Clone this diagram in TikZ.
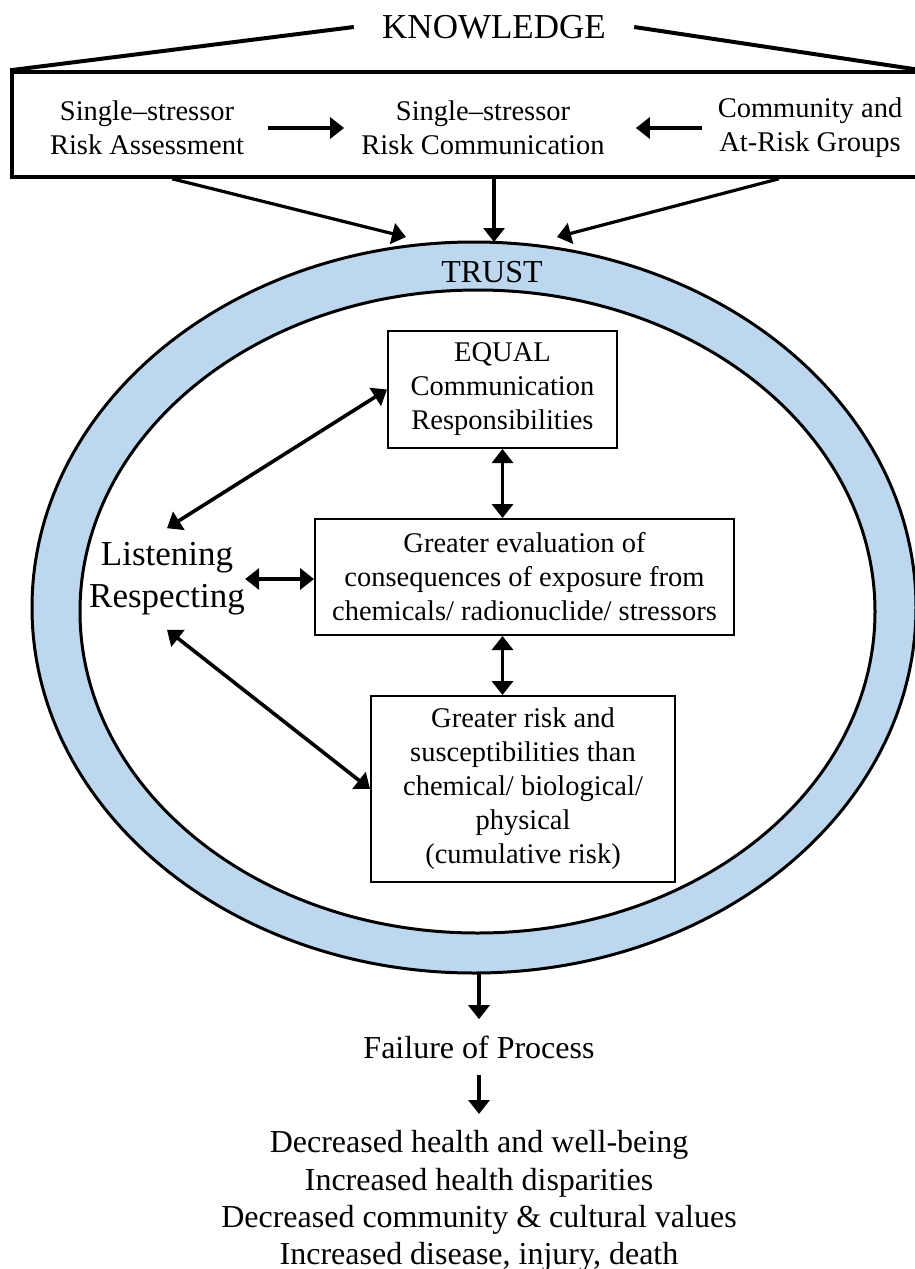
\documentclass[tikz,border=0pt]{standalone}
\usepackage{fontspec}
\setmainfont{Liberation Serif}
\usepackage{xcolor}
\usetikzlibrary{arrows.meta}
\definecolor{trustblue}{RGB}{189,215,238}

\begin{document}
\begin{tikzpicture}[x=0.5pt,y=-0.5pt,>={Triangle[length=7pt,width=10.5pt]},
  small/.style={align=center,inner sep=0pt,font=\fontsize{14.25}{17}\selectfont},
  card/.style={small,draw,line width=1pt},
  big/.style={align=center,font=\fontsize{16}{18.7}\selectfont},
  link/.style={<->,line width=1.8pt},
  flow/.style={->,line width=1.6pt}]
\useasboundingbox (0,0) rectangle (915,1269);

\node[draw,line width=1.75pt,minimum width=454pt,minimum height=52.5pt,inner sep=0pt] (kbox) at (466,124.5) {};
\node[font=\fontsize{17.5}{20}\selectfont,inner xsep=14pt] (know) at (494,27) {KNOWLEDGE};
\draw[line width=2pt] (kbox.north west) -- (know.west) (know.east) -- (kbox.north east);

\node[small] (sra) at (147,128) {Single--stressor\\Risk Assessment};
\node[small] (src) at (483,128) {Single--stressor\\Risk Communication};
\node[small] (grp) at (810,128) {Community and\\At-Risk Groups};
\draw[->,line width=2.2pt,shorten <=12pt,shorten >=8.5pt] (sra.east) -- (sra.east -| src.west);
\draw[->,line width=2.2pt,shorten <=7.5pt,shorten >=15.5pt] (grp.west) -- (grp.west -| src.east);

\fill[trustblue,even odd rule] (474,607.5) ellipse [x radius=442,y radius=365.5]
  (477.5,611.5) ellipse [x radius=397.5,y radius=321.5];
\draw[line width=1.5pt] (474,607.5) ellipse [x radius=442,y radius=365.5];
\draw[line width=1.5pt] (477.5,611.5) ellipse [x radius=397.5,y radius=321.5];
\coordinate (ringnw) at (406,237);
\coordinate (ringn) at (494,242);
\coordinate (ringne) at (557,237);
\coordinate (rings) at (479,973);
\node[font=\fontsize{16}{18}\selectfont] (trust) at (492,272) {TRUST};

\draw[flow] ([xshift=-147pt]kbox.south) -- (ringnw);
\draw[flow] (kbox.south -| ringn) -- (ringn);
\draw[flow] ([xshift=156.5pt]kbox.south) -- (ringne);

\node[card,minimum width=114.5pt,minimum height=58.5pt] (equal) at (502.5,389.5) {EQUAL\\Communication\\Responsibilities};
\node[card,minimum width=209.5pt,minimum height=58pt] (eval) at (524.5,577) {Greater evaluation of\\consequences of exposure from\\chemicals/ radionuclide/ stressors};
\node[card,minimum width=152pt,minimum height=93pt] (risk) at (523,789) {Greater risk and\\susceptibilities than\\chemical/ biological/\\physical\\(cumulative risk)};
\node[align=center,inner xsep=0pt,inner ysep=7pt,font=\fontsize{17.5}{21}\selectfont] (listen) at (167,579) {Listening\\Respecting};

\draw[link] (listen.north) -- (equal.west);
\draw[link] (listen.east) -- (listen.east -| eval.west);
\draw[link] (listen.south) -- (risk.west);
\draw[link] (equal.south) -- (equal.south |- eval.north);
\draw[link] (equal.south |- eval.south) -- (equal.south |- risk.north);

\node[big,inner sep=8pt] (fail) at (479,1047) {Failure of Process};
\node[big,inner sep=8pt,anchor=north] (loss) at (479,1114) {Decreased health and well-being\\Increased health disparities\\Decreased community \& cultural values\\Increased disease, injury, death};
\draw[flow] (rings) -- (fail.north);
\draw[flow] (fail.south) -- (loss.north);
\end{tikzpicture}
\end{document}
